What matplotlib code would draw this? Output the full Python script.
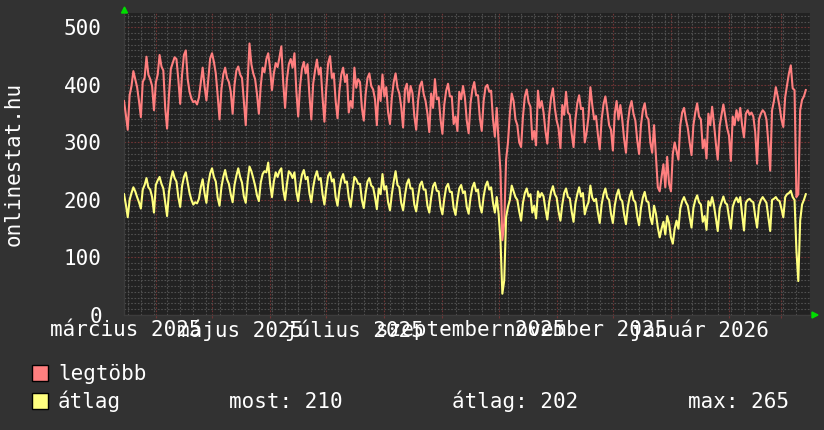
import matplotlib
matplotlib.use('Agg')
import matplotlib.pyplot as plt
import matplotlib.dates as mdates
from matplotlib.ticker import MultipleLocator
from matplotlib.patches import Rectangle, Polygon
import pandas as pd

# napi értékek 2025-03-15-tól
startDate = '2025-03-15'

legtobb = [
    372, 348, 322, 382, 398, 424, 410,
    396, 372, 344, 405, 412, 449, 418,
    410, 398, 356, 404, 418, 452, 432,
    425, 360, 324, 382, 428, 438, 448,
    445, 410, 367, 418, 452, 460, 410,
    388, 376, 370, 372, 366, 378, 404,
    430, 398, 373, 410, 446, 455, 440,
    420, 382, 340, 392, 418, 430, 412,
    405, 388, 350, 400, 425, 432, 418,
    412, 372, 330, 405, 472, 436, 420,
    410, 384, 350, 398, 430, 422, 445,
    455, 428, 391, 420, 438, 431, 448,
    467, 404, 360, 410, 436, 445, 430,
    455, 390, 345, 398, 428, 440, 420,
    436, 382, 340, 402, 425, 444, 418,
    430, 378, 336, 395, 438, 450, 412,
    420, 372, 342, 390, 418, 430, 405,
    418, 352, 372, 360, 430, 395, 410,
    405, 360, 338, 384, 412, 420, 398,
    392, 375, 330, 398, 372, 418, 380,
    396, 352, 332, 378, 405, 420, 395,
    385, 362, 326, 392, 402, 370, 398,
    386, 346, 322, 372, 398, 406, 384,
    372, 350, 318, 385, 360, 410, 375,
    378, 340, 315, 366, 390, 402, 380,
    380, 332, 345, 320, 388, 375, 398,
    378, 338, 316, 368, 392, 405, 382,
    382, 342, 320, 372, 396, 400, 388,
    390, 340, 310, 360, 300, 250, 130,
    160, 270, 300, 350, 385, 372, 340,
    330, 300, 292, 345, 380, 392, 370,
    362, 305, 320, 295, 390, 360, 372,
    352, 320, 298, 348, 378, 394, 360,
    338, 325, 290, 365, 348, 388, 352,
    348, 316, 292, 340, 368, 382, 358,
    360, 300, 318, 345, 396, 365, 340,
    346, 314, 288, 340, 366, 380, 356,
    330, 322, 286, 350, 372, 340, 365,
    340, 306, 282, 334, 360, 372, 350,
    338, 304, 280, 330, 356, 368, 345,
    340, 300, 282, 330, 277, 222, 215,
    240, 262, 222, 275, 228, 215, 280,
    300, 285, 270, 330, 352, 360, 340,
    325, 300, 278, 330, 352, 368, 345,
    340, 290, 305, 272, 350, 330, 362,
    332, 298, 270, 328, 348, 366, 345,
    325, 312, 268, 345, 330, 356, 338,
    360, 330, 309, 350, 356, 348, 352,
    345, 318, 263, 340, 350, 356, 352,
    340, 300, 251, 356, 372, 396, 380,
    362, 340, 327, 379, 400, 420, 434,
    394, 391, 205, 210, 356, 374, 380,
    391,
]

atlag = [
    210, 192, 170, 200, 212, 222, 215,
    205, 196, 185, 218, 226, 238, 222,
    218, 205, 178, 226, 234, 240, 228,
    220, 196, 172, 214, 236, 250, 238,
    232, 205, 188, 224, 240, 248, 230,
    212, 200, 192, 196, 194, 202, 222,
    236, 212, 195, 228, 246, 255, 240,
    232, 204, 190, 222, 240, 252, 236,
    228, 210, 196, 226, 242, 255, 240,
    230, 206, 195, 232, 258, 250, 238,
    225, 208, 198, 230, 245, 250, 248,
    265, 228, 205, 232, 248, 240, 250,
    255, 218, 200, 228, 250, 246, 238,
    248, 215, 198, 225, 244, 252, 236,
    240, 212, 196, 222, 240, 250, 235,
    238, 210, 192, 220, 242, 248, 232,
    236, 205, 190, 218, 236, 245, 230,
    232, 204, 188, 215, 240, 236, 228,
    228, 200, 186, 212, 232, 238, 225,
    222, 205, 184, 220, 210, 245, 218,
    224, 196, 182, 210, 232, 250, 226,
    222, 195, 182, 208, 228, 236, 220,
    220, 192, 180, 206, 226, 232, 218,
    218, 190, 178, 204, 224, 230, 216,
    215, 188, 175, 202, 222, 228, 214,
    214, 186, 174, 200, 220, 226, 212,
    215, 188, 176, 204, 222, 230, 215,
    218, 190, 178, 206, 224, 232, 218,
    222, 195, 178, 205, 176, 130, 37,
    60, 170, 188, 200, 225, 215, 205,
    200, 180, 164, 195, 212, 220, 206,
    210, 178, 190, 168, 215, 205, 212,
    206, 184, 166, 196, 214, 224, 210,
    204, 180, 164, 192, 212, 220, 205,
    203, 180, 162, 194, 210, 222, 206,
    212, 175, 188, 196, 225, 204, 198,
    202, 178, 160, 192, 210, 220, 204,
    200, 176, 160, 190, 208, 218, 202,
    198, 175, 158, 188, 206, 216, 200,
    196, 172, 156, 186, 204, 214, 198,
    196, 170, 158, 190, 176, 152, 135,
    150, 162, 140, 172, 160, 135, 124,
    150, 164, 150, 185, 198, 205, 196,
    190, 170, 152, 186, 200, 208, 196,
    192, 162, 172, 148, 198, 190, 205,
    190, 168, 146, 185, 196, 206, 195,
    192, 170, 150, 188, 198, 204, 196,
    205, 175, 147, 195, 200, 202, 198,
    196, 172, 152, 190, 200, 205, 200,
    195, 170, 146, 200, 202, 205, 200,
    198, 185, 170, 205, 210, 212, 216,
    205, 200, 112, 59, 164, 192, 200,
    210,
]

monthLabels = ['március 2025', 'május 2025', 'július 2025',
               'szeptember 2025', 'november 2025', 'január 2026']
labelDates = ['2025-03-16', '2025-05-16', '2025-07-16',
              '2025-09-16', '2025-11-16', '2026-01-16']

legendNames = ['legtöbb', 'átlag']
statTexts = ['most: 210', 'átlag: 202', 'max: 265']


def main():
    W, H = 824, 430
    bgColor = '#323232'
    canvasColor = '#222222'
    fontName = 'DejaVu Sans Mono'
    fontSize = 15

    fig = plt.figure(figsize=(W / 100, H / 100), dpi=100, facecolor=bgColor)
    ax = fig.add_axes([124 / W, 1 - 315 / H, 686 / W, 302 / H])
    ax.set_facecolor(canvasColor)

    dates = pd.date_range(startDate, periods=len(legtobb), freq='D')

    ax.plot(dates, legtobb, color='#FF7F7F', lw=1.5, zorder=3)
    ax.plot(dates, atlag, color='#FFFF7F', lw=1.5, zorder=4)

    ax.set_ylim(0, 525)
    ax.set_xlim(pd.Timestamp('2025-03-15'), pd.Timestamp('2026-03-16 06:00'))

    # rácsok
    ax.yaxis.set_major_locator(MultipleLocator(100))
    ax.yaxis.set_minor_locator(MultipleLocator(10))
    ax.xaxis.set_major_locator(mdates.MonthLocator())
    ax.xaxis.set_minor_locator(mdates.WeekdayLocator(byweekday=mdates.MO))
    ax.xaxis.set_major_formatter(plt.NullFormatter())

    dots = (0, (1.5, 1.5))
    ax.grid(which='minor', color='#505050', lw=0.8, ls=dots)
    ax.grid(which='major', color='#703535', lw=0.8, ls=dots)
    ax.set_axisbelow(True)

    ax.tick_params(axis='y', which='both', length=0, pad=16,
                   labelcolor='white', labelsize=fontSize)
    ax.tick_params(axis='x', which='minor', length=0)
    ax.tick_params(axis='x', which='major', length=2.5, color='#703535',
                   width=0.8)
    for lbl in ax.get_yticklabels():
        lbl.set_fontfamily(fontName)

    for sp in ['top', 'right']:
        ax.spines[sp].set_visible(False)
    for sp in ['left', 'bottom']:
        ax.spines[sp].set_color('#3c3c3c')
        ax.spines[sp].set_linewidth(1)

    for lab, d in zip(monthLabels, labelDates):
        ax.text(pd.Timestamp(d), -0.015, lab, transform=ax.get_xaxis_transform(),
                ha='center', va='top', color='white', fontsize=fontSize,
                family=fontName, clip_on=False)

    fig.text(14 / W, 1 - 164 / H, 'onlinestat.hu', rotation=90, ha='center',
             va='center', color='white', fontsize=fontSize, family=fontName)

    # jelmagyarázat
    boxColors = ['#FF7F7F', '#FFFF7F']
    baselines = [380, 408]
    for name, c, yb in zip(legendNames, boxColors, baselines):
        fig.add_artist(Rectangle((32 / W, 1 - (yb + 1) / H), 16 / W, 16 / H,
                                 facecolor=c, edgecolor='black', lw=1,
                                 transform=fig.transFigure))
        fig.text(58 / W, 1 - yb / H, name, ha='left', va='baseline',
                 color='white', fontsize=fontSize, family=fontName)
    for txt, xp in zip(statTexts, [229, 452, 688]):
        fig.text(xp / W, 1 - 408 / H, txt, ha='left', va='baseline',
                 color='white', fontsize=fontSize, family=fontName)

    # zöld nyilak
    green = '#00DD00'
    fig.add_artist(Polygon([(121.5 / W, 1 - 13 / H), (127.5 / W, 1 - 13 / H),
                            (124.5 / W, 1 - 7 / H)], closed=True,
                           color=green, transform=fig.transFigure))
    fig.add_artist(Polygon([(812 / W, 1 - 312 / H), (812 / W, 1 - 318 / H),
                            (818 / W, 1 - 315 / H)], closed=True,
                           color=green, transform=fig.transFigure))

    fig.savefig('out.png', dpi=100, facecolor=bgColor)


if (__name__ == '__main__'):
    main()
